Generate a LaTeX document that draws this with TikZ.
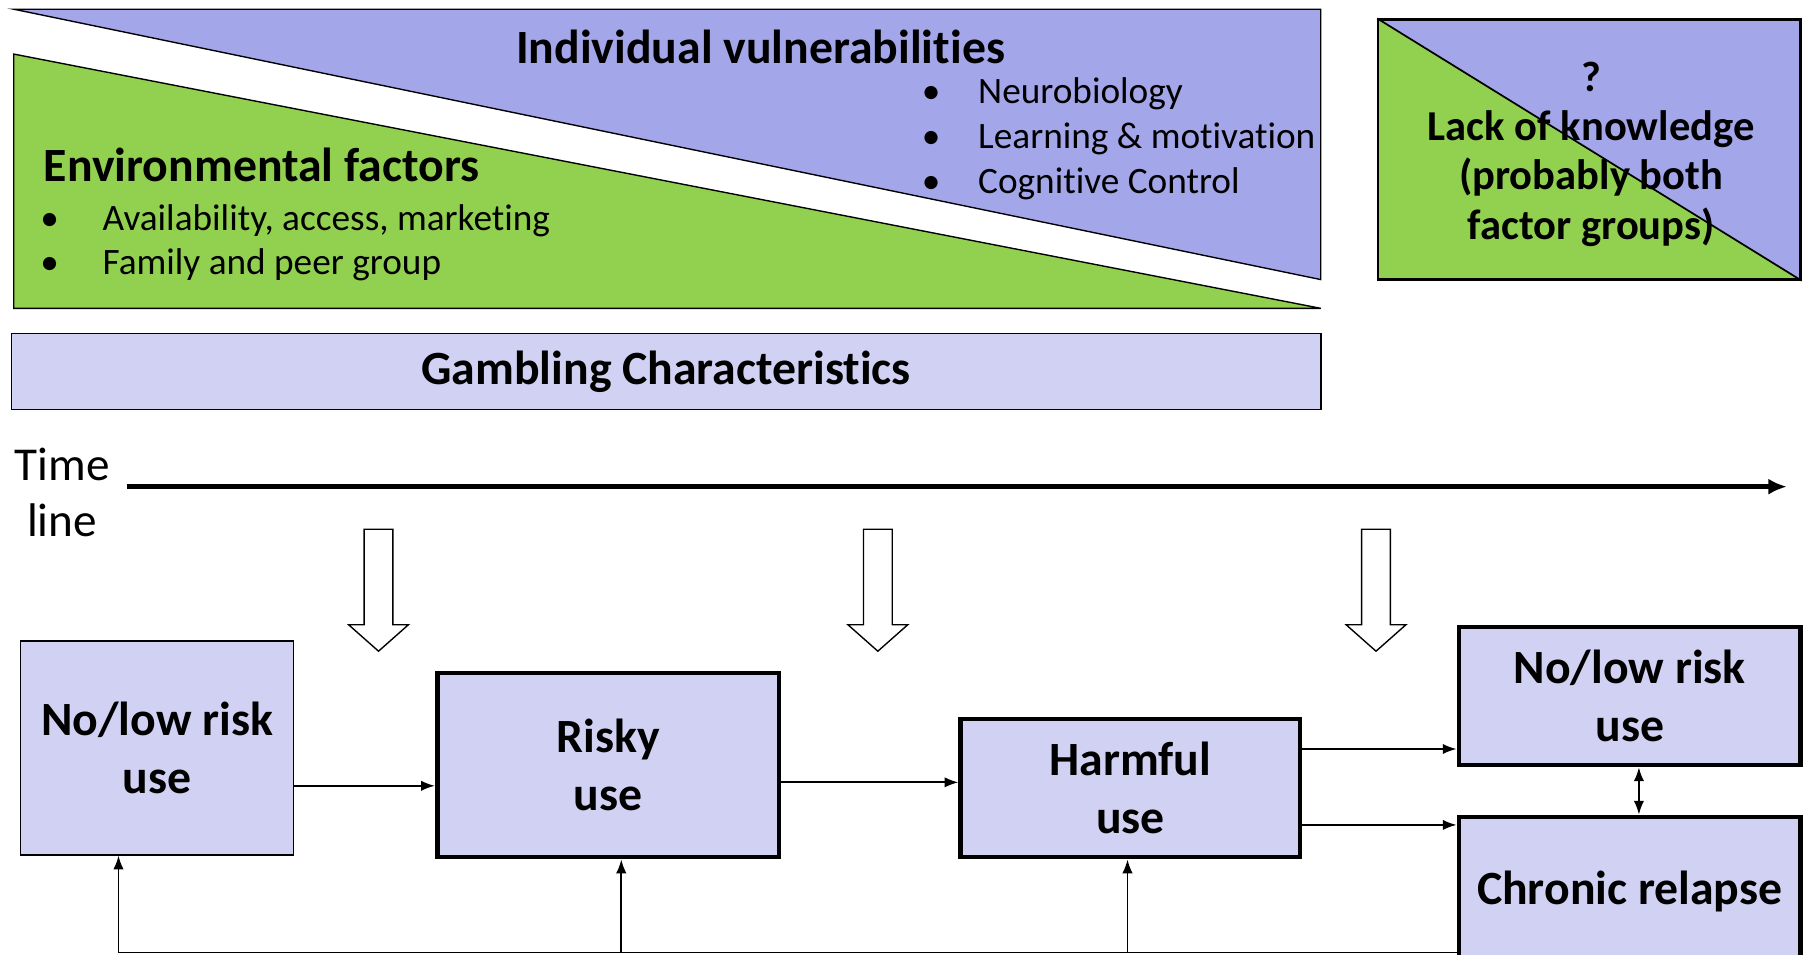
\documentclass[tikz,border=0pt]{standalone}
\usepackage{fontspec}
\setmainfont{Carlito}[Ligatures=NoCommon]
\usetikzlibrary{arrows.meta}
\definecolor{vgreen}{RGB}{146,208,80}
\definecolor{vblue}{RGB}{163,166,232}
\definecolor{vlight}{RGB}{209,210,243}
\begin{document}
\begin{tikzpicture}[x=1pt,y=-1pt,
  thinbox/.style={draw, line width=1.3pt, fill=vlight, align=center, inner sep=0pt,
    font=\bfseries\fontsize{41.5}{50}\selectfont},
  thickbox/.style={thinbox, line width=4pt},
  conn/.style={line width=1.5pt, -{Latex[length=12pt,width=9pt]}},
  headtxt/.style={font=\bfseries\fontsize{41.5}{48}\selectfont, inner sep=0pt},
  bultxt/.style={font=\fontsize{32.4}{38}\selectfont, inner sep=0pt, anchor=base west},
  lacktxt/.style={font=\bfseries\fontsize{37}{43}\selectfont, inner sep=0pt, align=center},
  blockarrow/.style={line width=1.2pt, fill=white, line join=miter}
]
\useasboundingbox (0,0) rectangle (1568,830);

% top factor triangles
\filldraw[fill=vblue, line width=1.2pt, line join=miter] (12,8) -- (1148,8) -- (1148,243) -- cycle;
\filldraw[fill=vgreen, line width=1.2pt, line join=miter] (12,47) -- (1148,268) -- (12,268) -- cycle;

\node[headtxt, anchor=base] (indiv) at (661,55) {Individual vulnerabilities};
\node[bultxt] (ib1) at (801,90) {\textbullet};
\node[bultxt] (it1) at (850,90) {Neurobiology};
\node[bultxt] (ib2) at (801,129) {\textbullet};
\node[bultxt] (it2) at (850,129) {Learning \& motivation};
\node[bultxt] (ib3) at (801,168) {\textbullet};
\node[bultxt] (it3) at (850,168) {Cognitive Control};

\node[headtxt, anchor=base west] (env) at (38,158) {Environmental factors};
\node[bultxt] (eb1) at (35,200) {\textbullet};
\node[bultxt] (et1) at (89,200) {Availability, access, marketing};
\node[bultxt] (eb2) at (35,239) {\textbullet};
\node[bultxt] (et2) at (89,239) {Family and peer group};

% lack of knowledge box
\fill[vgreen] (1198,17) -- (1565,243) -- (1198,243) -- cycle;
\fill[vblue] (1198,17) -- (1565,17) -- (1565,243) -- cycle;
\node[draw, line width=2pt, minimum width=367pt, minimum height=226pt, inner sep=0pt] (lack) at (1381.5,130) {};
\draw[line width=1.5pt] (lack.north west) -- (lack.south east);
\node[lacktxt] (lacktext) at (1383,134) {?\\Lack of knowledge\\(probably both\\factor groups)};

% gambling characteristics
\node[thinbox, minimum width=1138pt, minimum height=66pt] (gamb) at (579,323) {Gambling Characteristics};

% time line
\node[font=\fontsize{41}{49}\selectfont, align=center, inner sep=0pt] (timelbl) at (54,428) {Time\\line};
\coordinate (tlA) at (110,423);
\coordinate (tlB) at (1553,423);
\draw[line width=4pt, -{Latex[length=16pt,width=14pt]}] (tlA) -- (tlB);

% block arrows
\foreach \cx in {329,763,1196}
  \draw[blockarrow] (\cx-12.5,460) -- (\cx+12.5,460) -- (\cx+12.5,543) -- (\cx+26,543)
     -- (\cx,566) -- (\cx-26,543) -- (\cx-12.5,543) -- cycle;

% stage boxes
\node[thinbox, minimum width=237pt, minimum height=186pt] (lbox) at (136.5,650) {No/low risk\\use};
\node[thickbox, minimum width=297pt, minimum height=160pt] (risky) at (528.5,665) {Risky\\use};
\node[thickbox, minimum width=295pt, minimum height=120pt] (harm) at (982.5,685) {Harmful\\use};
\node[thickbox, minimum width=297pt, minimum height=120pt] (rlow) at (1416.5,605) {No/low risk\\use};
\node[thickbox, minimum width=297pt, minimum height=130pt] (chronic) at (1416.5,775) {Chronic relapse};

% connectors
\coordinate (y683) at (0,683);
\coordinate (y680) at (0,680);
\coordinate (y651) at (0,651);
\coordinate (y717) at (0,717);
\draw[conn] (lbox.east |- y683) -- (risky.west |- y683);
\draw[conn] (risky.east |- y680) -- (harm.west |- y680);
\draw[conn] (harm.east |- y651) -- (rlow.west |- y651);
\draw[conn] (harm.east |- y717) -- (chronic.west |- y717);
\draw[line width=1.5pt, {Latex[length=12pt,width=9pt]}-{Latex[length=12pt,width=9pt]}]
  ([xshift=8pt]rlow.south) -- ([xshift=8pt]chronic.north);

% feedback loop
\coordinate (lp1) at (103,828);
\coordinate (lp2) at (540,828);
\coordinate (lp3) at (980,828);
\draw[line width=1.5pt] (chronic.west |- lp1) -- (lp1);
\draw[conn] (lp1) -- (lp1 |- lbox.south);
\draw[conn] (lp2) -- (lp2 |- risky.south);
\draw[conn] (lp3) -- (lp3 |- harm.south);
\end{tikzpicture}
\end{document}
